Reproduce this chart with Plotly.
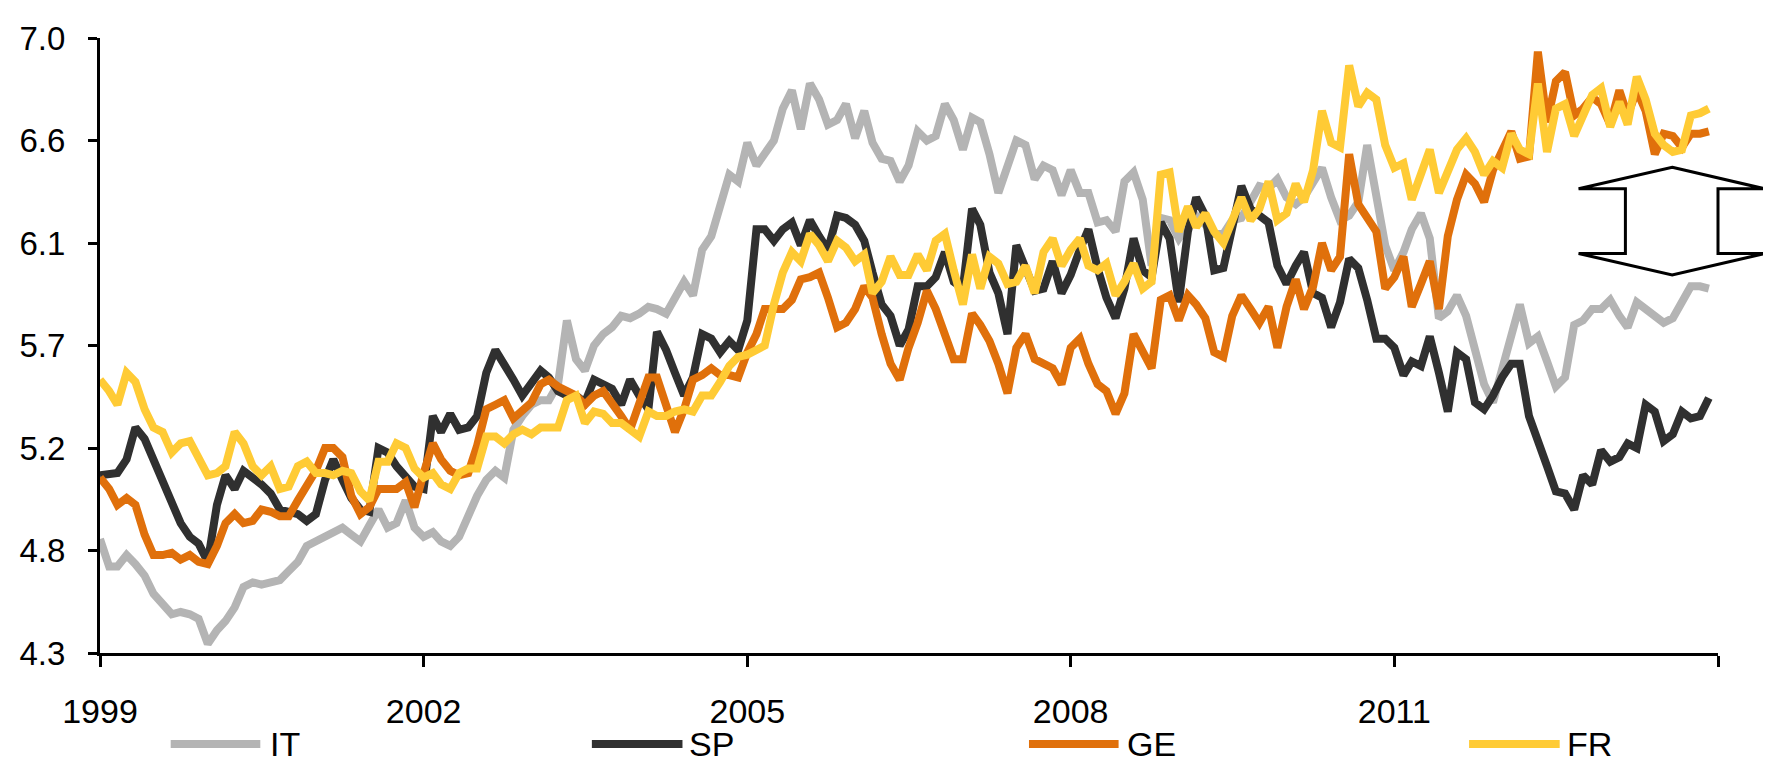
import pandas as pd
import plotly.graph_objects as go

# ---------------- data (monthly, Jan 1999 - Dec 2013) ----------------
start_month = "1999-01-01"
n_months = 180
dates = pd.date_range(start_month, periods=n_months, freq="MS")

IT = [
    4.80, 4.68, 4.68, 4.73, 4.69, 4.64, 4.56, 4.52, 4.47, 4.48, 4.47, 4.45,
    4.34, 4.40, 4.44, 4.50, 4.59, 4.61, 4.60, 4.61, 4.62, 4.66, 4.70, 4.77,
    4.79, 4.81, 4.83, 4.85, 4.82, 4.79, 4.86, 4.93, 4.85, 4.87, 4.97, 4.85,
    4.81, 4.83, 4.79, 4.77, 4.81, 4.91, 4.99, 5.06, 5.10, 5.07, 5.28, 5.34,
    5.39, 5.41, 5.41, 5.48, 5.76, 5.59, 5.54, 5.65, 5.70, 5.73, 5.78, 5.77,
    5.79, 5.82, 5.81, 5.79, 5.86, 5.93, 5.87, 6.07, 6.13, 6.26, 6.40, 6.37,
    6.54, 6.44, 6.49, 6.55, 6.69, 6.77, 6.60, 6.80, 6.73, 6.62, 6.64, 6.71,
    6.56, 6.68, 6.54, 6.47, 6.46, 6.37, 6.44, 6.59, 6.55, 6.57, 6.71, 6.64,
    6.51, 6.65, 6.63, 6.49, 6.32, 6.45, 6.55, 6.53, 6.38, 6.44, 6.42, 6.31,
    6.42, 6.32, 6.32, 6.19, 6.20, 6.15, 6.37, 6.41, 6.29, 6.00, 6.21, 6.20,
    6.12, 6.18, 6.22, 6.18, 6.14, 6.14, 6.20, 6.21, 6.28, 6.35, 6.34, 6.38,
    6.30, 6.27, 6.30, 6.36, 6.43, 6.30, 6.20, 6.22, 6.28, 6.53, 6.30, 6.09,
    5.98, 6.06, 6.16, 6.23, 6.12, 5.77, 5.80, 5.87, 5.78, 5.64, 5.48, 5.40,
    5.55, 5.69, 5.83, 5.66, 5.69, 5.58, 5.47, 5.51, 5.74, 5.76, 5.81, 5.81,
    5.85, 5.78, 5.73, 5.84, 5.81, 5.77, 5.75, 5.77, 5.85, 5.91, 5.91, 5.90,
]

SP = [
    5.08, 5.09, 5.09, 5.15, 5.29, 5.24, 5.15, 5.06, 4.96, 4.87, 4.81, 4.78,
    4.70, 4.95, 5.08, 5.02, 5.10, 5.07, 5.04, 5.00, 4.93, 4.92, 4.91, 4.88,
    4.91, 5.06, 5.15, 5.06, 4.98, 4.93, 4.92, 5.20, 5.18, 5.12, 5.07, 5.03,
    5.02, 5.34, 5.27, 5.35, 5.28, 5.29, 5.34, 5.53, 5.63, 5.57, 5.50, 5.43,
    5.48, 5.54, 5.51, 5.45, 5.43, 5.43, 5.40, 5.50, 5.48, 5.46, 5.39, 5.50,
    5.43, 5.37, 5.71, 5.63, 5.53, 5.43, 5.51, 5.70, 5.68, 5.62, 5.67, 5.63,
    5.76, 6.16, 6.16, 6.11, 6.16, 6.19, 6.09, 6.20, 6.13, 6.07, 6.22, 6.21,
    6.18, 6.11, 5.97, 5.83, 5.78, 5.65, 5.72, 5.91, 5.91, 5.95, 6.06, 5.93,
    5.90, 6.25, 6.18, 5.97, 5.88, 5.70, 6.09, 6.00, 5.89, 5.90, 6.02, 5.88,
    5.96, 6.07, 6.16, 5.99, 5.86, 5.77, 5.90, 6.12, 5.98, 5.95, 6.19, 6.12,
    5.84, 6.15, 6.30, 6.22, 5.98, 5.99, 6.18, 6.35, 6.25, 6.22, 6.19, 6.00,
    5.92, 6.00, 6.06, 5.88, 5.86, 5.73, 5.84, 6.03, 5.99, 5.85, 5.68, 5.68,
    5.64, 5.52, 5.58, 5.56, 5.69, 5.53, 5.36, 5.62, 5.59, 5.40, 5.37, 5.43,
    5.51, 5.57, 5.57, 5.34, 5.22, 5.12, 5.01, 5.00, 4.93, 5.08, 5.04, 5.19,
    5.14, 5.16, 5.22, 5.20, 5.39, 5.36, 5.23, 5.26, 5.36, 5.33, 5.34, 5.42,
]

GE = [
    5.07, 5.02, 4.95, 4.98, 4.95, 4.82, 4.73, 4.73, 4.74, 4.71, 4.73, 4.70,
    4.69, 4.77, 4.87, 4.91, 4.87, 4.88, 4.93, 4.92, 4.90, 4.90, 4.97, 5.04,
    5.10, 5.20, 5.20, 5.16, 4.99, 4.91, 4.94, 5.02, 5.02, 5.02, 5.05, 4.94,
    5.09, 5.22, 5.15, 5.10, 5.08, 5.09, 5.21, 5.37, 5.39, 5.41, 5.33, 5.37,
    5.40, 5.48, 5.50, 5.47, 5.45, 5.43, 5.39, 5.43, 5.45, 5.40, 5.34, 5.28,
    5.40, 5.51, 5.51, 5.40, 5.27, 5.37, 5.50, 5.52, 5.55, 5.52, 5.52, 5.51,
    5.62, 5.70, 5.81, 5.81, 5.81, 5.85, 5.94, 5.95, 5.97, 5.86, 5.73, 5.75,
    5.81, 5.91, 5.86, 5.70, 5.57, 5.50, 5.64, 5.75, 5.89, 5.81, 5.69, 5.59,
    5.59, 5.79, 5.74, 5.67, 5.57, 5.44, 5.64, 5.70, 5.59, 5.57, 5.55, 5.48,
    5.64, 5.68, 5.57, 5.48, 5.45, 5.35, 5.44, 5.70, 5.63, 5.55, 5.85, 5.87,
    5.76, 5.87, 5.83, 5.77, 5.62, 5.60, 5.78, 5.87, 5.81, 5.75, 5.82, 5.64,
    5.82, 5.94, 5.81, 5.91, 6.10, 5.98, 6.04, 6.49, 6.27, 6.21, 6.15, 5.90,
    5.95, 6.04, 5.82, 5.92, 6.02, 5.81, 6.13, 6.29, 6.40, 6.36, 6.28, 6.42,
    6.51, 6.59, 6.47, 6.48, 6.94, 6.63, 6.81, 6.85, 6.66, 6.69, 6.74, 6.71,
    6.62, 6.77, 6.66, 6.77, 6.68, 6.49, 6.58, 6.57, 6.52, 6.58, 6.58, 6.59,
]

FR = [
    5.50, 5.45, 5.39, 5.53, 5.49, 5.37, 5.29, 5.27, 5.18, 5.22, 5.23, 5.16,
    5.08, 5.09, 5.12, 5.27, 5.22, 5.12, 5.08, 5.12, 5.02, 5.03, 5.12, 5.14,
    5.09, 5.09, 5.08, 5.10, 5.09, 5.01, 4.97, 5.14, 5.14, 5.22, 5.20, 5.11,
    5.07, 5.09, 5.04, 5.02, 5.09, 5.11, 5.11, 5.25, 5.25, 5.22, 5.26, 5.28,
    5.26, 5.29, 5.29, 5.29, 5.41, 5.43, 5.31, 5.36, 5.35, 5.31, 5.31, 5.28,
    5.25, 5.36, 5.34, 5.34, 5.36, 5.37, 5.36, 5.43, 5.43, 5.49, 5.56, 5.60,
    5.61, 5.63, 5.65, 5.83, 5.97, 6.06, 6.02, 6.14, 6.09, 6.02, 6.11, 6.08,
    6.02, 6.05, 5.88, 5.93, 6.04, 5.96, 5.96, 6.05, 5.98, 6.11, 6.14, 5.98,
    5.83, 6.05, 5.90, 6.04, 6.01, 5.92, 5.93, 6.00, 5.88, 6.06, 6.12, 6.00,
    6.07, 6.12, 6.00, 5.98, 6.01, 5.87, 5.93, 6.01, 5.90, 5.93, 6.40, 6.41,
    6.15, 6.26, 6.17, 6.23, 6.15, 6.10, 6.19, 6.30, 6.20, 6.25, 6.37, 6.20,
    6.23, 6.36, 6.28, 6.42, 6.68, 6.54, 6.52, 6.88, 6.70, 6.76, 6.73, 6.53,
    6.43, 6.45, 6.29, 6.39, 6.51, 6.32, 6.42, 6.51, 6.56, 6.50, 6.40, 6.46,
    6.43, 6.58, 6.51, 6.49, 6.80, 6.50, 6.69, 6.71, 6.57, 6.66, 6.75, 6.78,
    6.61, 6.72, 6.62, 6.83, 6.73, 6.58, 6.53, 6.50, 6.51, 6.66, 6.67, 6.69,
]

series_names = ["IT", "SP", "GE", "FR"]
series_values = [IT, SP, GE, FR]
series_colors = ["#b4b4b4", "#303030", "#e0700b", "#ffcb35"]

y_tickvals = [4.3, 4.75, 5.2, 5.65, 6.1, 6.55, 7.0]
y_ticktext = ["4.3", "4.8", "5.2", "5.7", "6.1", "6.6", "7.0"]
x_tickvals = ["1999-01-01", "2002-01-01", "2005-01-01", "2008-01-01", "2011-01-01", "2014-01-01"]
x_ticktext = ["1999", "2002", "2005", "2008", "2011", ""]

# ---------------- layout geometry (page pixels) ----------------
PAGE_W, PAGE_H = 1771, 765
BODY = 8                      # default page margin around the figure div
PLOT_X0, PLOT_X1 = 93, 1718   # plot area in page pixels
PLOT_Y0, PLOT_Y1 = 25, 653
W, H = PAGE_W - BODY, PAGE_H - BODY
L, T = PLOT_X0 - BODY, PLOT_Y0 - BODY
R = W - L - (PLOT_X1 - PLOT_X0)
B = H - T - (PLOT_Y1 - PLOT_Y0)
PW, PH = PLOT_X1 - PLOT_X0, PLOT_Y1 - PLOT_Y0
FONT = "Liberation Sans, Arial, sans-serif"


def px(x):
    return (x - PLOT_X0) / PW


def py(y):
    return (PLOT_Y1 - y) / PH


fig = go.Figure()
for name, vals, col in zip(series_names, series_values, series_colors):
    fig.add_trace(go.Scatter(
        x=dates, y=vals, name=name, mode="lines",
        line=dict(color=col, width=8), showlegend=False,
    ))

# custom legend (long line samples like the original)
legend_items = [(164, 254, 262), (587, 678, 683), (1026, 1116, 1122), (1468, 1559, 1564)]
shapes = []
annotations = []
for (x0, x1, xt), name, col in zip(legend_items, series_names, series_colors):
    shapes.append(dict(type="line", xref="paper", yref="paper",
                       x0=px(x0), x1=px(x1), y0=py(746), y1=py(746),
                       line=dict(color=col, width=8)))
    annotations.append(dict(xref="paper", yref="paper", x=px(xt), y=py(746),
                            xanchor="left", yanchor="middle", text=name,
                            showarrow=False, font=dict(size=34, color="black", family=FONT)))

# double-headed arrow (decoration)
arrow_pts = [(1672, 157), (1765, 179), (1718, 179), (1718, 245), (1765, 245),
             (1672, 267), (1578, 245), (1625, 245), (1625, 179), (1578, 179)]
path = "M " + " L ".join(f"{px(a):.5f},{py(b):.5f}" for a, b in arrow_pts) + " Z"
shapes.append(dict(type="path", xref="paper", yref="paper", path=path,
                   fillcolor="white", line=dict(color="black", width=3), layer="above"))

fig.update_layout(
    width=W, height=H,
    margin=dict(l=L, r=R, t=T, b=B, pad=0),
    paper_bgcolor="white", plot_bgcolor="white",
    font=dict(family=FONT, color="black"),
    shapes=shapes, annotations=annotations,
    showlegend=False,
)
fig.update_xaxes(
    type="date", range=["1999-01-01", "2014-01-01"],
    tickvals=x_tickvals, ticktext=x_ticktext,
    showgrid=False, zeroline=False,
    showline=True, linecolor="black", linewidth=3,
    ticks="outside", ticklen=11, tickwidth=3, tickcolor="black",
    tickfont=dict(size=34, family=FONT, color="black"),
    ticklabelstandoff=15, ticklabeloverflow="allow",
)
fig.update_yaxes(
    range=[4.3, 7.0], tickvals=y_tickvals, ticktext=y_ticktext,
    showgrid=False, zeroline=False,
    showline=True, linecolor="black", linewidth=3,
    ticks="outside", ticklen=9, tickwidth=3, tickcolor="black",
    tickfont=dict(size=33, family=FONT, color="black"),
    ticklabelstandoff=16, ticklabeloverflow="allow",
)

fig.write_html("out.html")
